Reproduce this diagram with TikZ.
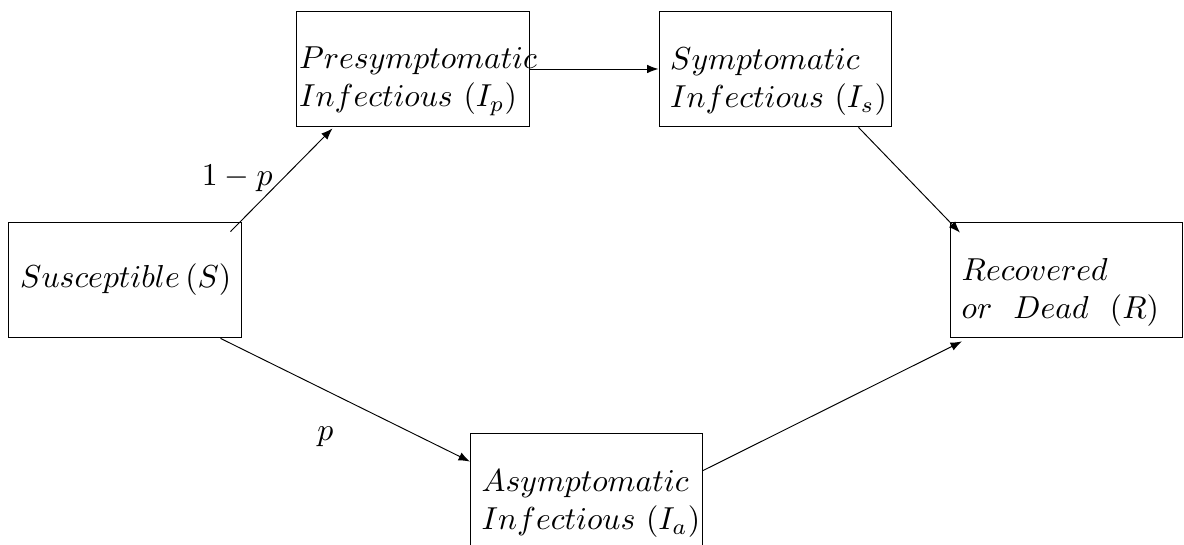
\documentclass[tikz,border=0pt]{standalone}
\usepackage{amsmath,amssymb}
\usepackage{tikz}
\usetikzlibrary{arrows.meta}

\begin{document}
\begin{tikzpicture}[
x=0.315pt, y=-0.315pt, line width=0.3pt,
box/.style={draw, minimum width=73.1pt, minimum height=36.5pt, text width=66pt, inner xsep=3.55pt, align=left},
twoline/.style={box, execute at begin node={\rule{0pt}{14.6pt}}},
arrow/.style={-{Latex[length=3.6pt]}}
]
\useasboundingbox (0,0) rectangle (1184,545);
\node[box, align=center] (sus) at (125,280) {$Susceptible\,(S)$};
\node[twoline, inner xsep=0.7pt, text width=71.7pt] (pre) at (413,69) {$Presymptomatic$\\$Infectious\ (I_p)$};
\node[twoline] (sym) at (775,69) {$Symptomatic$\\$Infectious\ (I_s)$};
\node[twoline] (rec) at (1066.5,280) {$Recovered$\\$or\ \ Dead\ \ (R)$};
\node[twoline] (asy) at (586.5,491) {$Asymptomatic$\\$Infectious\ (I_a)$};
\draw[arrow] ([shift={(-11,10)}]sus.north east) -- ([shift={(36,1)}]pre.south west) node[pos=0.52, left=0pt] (lp) {$1-p$};
\draw[arrow] ([shift={(-21,0)}]sus.south east) -- ([shift={(0,29)}]asy.north west) node[pos=0.42, below=8pt] (lq) {$p$};
\draw[arrow] (pre.east) -- (sym.west);
\draw[arrow] ([shift={(-33,0)}]sym.south east) -- ([shift={(10,11)}]rec.north west);
\draw[arrow] ([shift={(0,38)}]asy.north east) -- ([shift={(12,3)}]rec.south west);
\end{tikzpicture}
\end{document}
